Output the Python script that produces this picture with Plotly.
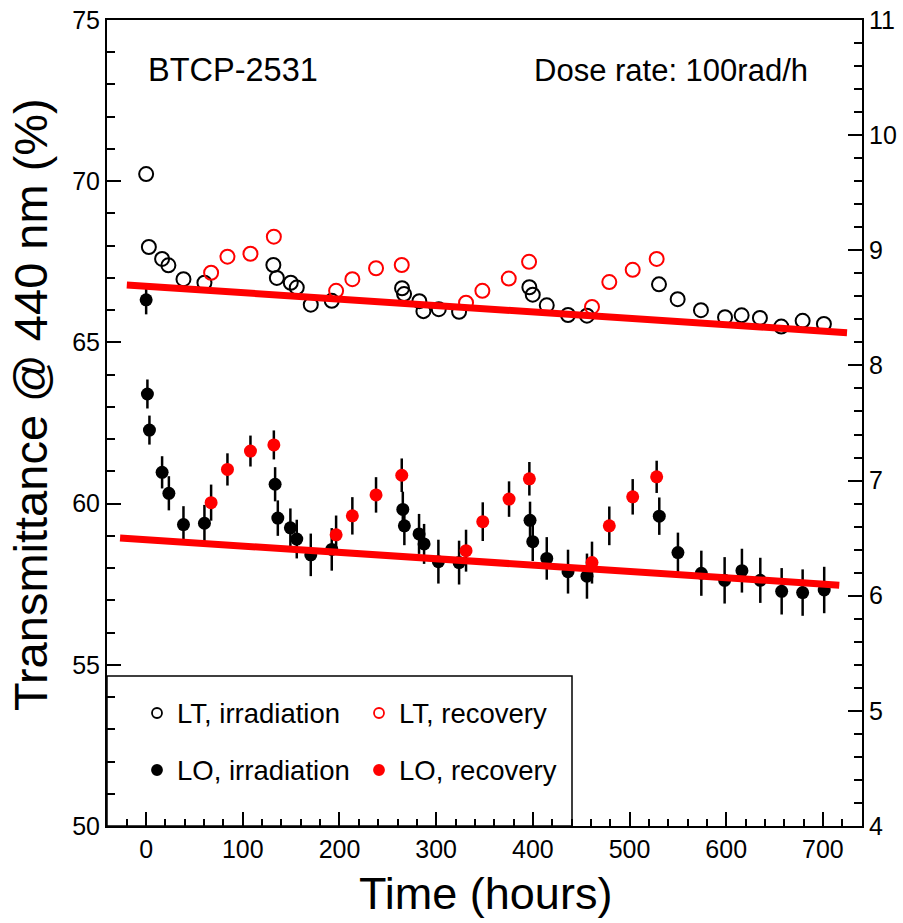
import plotly.graph_objects as go

# ---------------- data ----------------
lt_irr_t = [0, 2.8, 16.5, 23, 38.6, 60.3, 131.6, 135.2, 149.6, 155.8, 170.3, 192,
            264.7, 266.8, 282.6, 286.8, 302.7, 323.7, 396.4, 399.9, 414.4, 436.4, 456,
            530.5, 549.8, 573.9, 598.8, 616, 634.9, 657, 679.1, 701.1]
lt_irr_v = [70.22, 67.96, 67.59, 67.39, 66.96, 66.85, 67.40, 67.00, 66.85, 66.70, 66.17, 66.29,
            66.68, 66.50, 66.28, 65.97, 66.03, 65.95, 66.71, 66.48, 66.15, 65.85, 65.83,
            66.80, 66.34, 66.00, 65.78, 65.84, 65.76, 65.49, 65.67, 65.57]

lt_rec_t = [67.2, 84.1, 107.9, 132.1, 196.5, 213.3, 237.8, 264.4, 330.9, 347.8, 375.1, 396.1,
            461.2, 479.1, 503.3, 528.1]
lt_rec_v = [67.16, 67.66, 67.75, 68.28, 66.60, 66.96, 67.30, 67.40, 66.23, 66.60, 66.98, 67.50,
            66.10, 66.87, 67.25, 67.59]

lo_irr_t = [0, 1.3, 3.4, 16.5, 23.5, 38.6, 60.3, 133.4, 136.2, 149.2, 155.8, 170.3, 192,
            265.5, 267.1, 282.3, 287.5, 302.3, 323.7, 397.1, 399.9, 414.4, 436.4, 456,
            530.8, 550.1, 574.3, 598.4, 616.3, 635.3, 657.4, 679.1, 701.4]
lo_irr_v = [66.32, 63.40, 62.28, 60.97, 60.32, 59.35, 59.39, 60.60, 59.55, 59.25, 58.90, 58.41, 58.58,
            59.82, 59.31, 59.06, 58.75, 58.20, 58.17, 59.48, 58.82, 58.30, 57.89, 57.75,
            59.61, 58.48, 57.84, 57.62, 57.92, 57.62, 57.28, 57.24, 57.32]
lo_irr_e = [0.45, 0.45, 0.45, 0.50, 0.53, 0.57, 0.57, 0.53, 0.55, 0.60, 0.60, 0.66, 0.66,
            0.55, 0.60, 0.62, 0.62, 0.68, 0.68, 0.58, 0.60, 0.66, 0.68, 0.70,
            0.58, 0.62, 0.70, 0.72, 0.68, 0.70, 0.72, 0.72, 0.72]

lo_rec_t = [67.2, 84.1, 107.9, 132.1, 196.5, 213.3, 237.8, 264.4, 330.9, 348.2, 375.4, 396.4,
            461.2, 479.1, 503.3, 528.1]
lo_rec_v = [60.03, 61.06, 61.63, 61.82, 59.03, 59.62, 60.27, 60.88, 58.54, 59.44, 60.14, 60.77,
            58.17, 59.31, 60.21, 60.83]
lo_rec_e = [0.56, 0.50, 0.48, 0.45, 0.60, 0.58, 0.55, 0.52, 0.65, 0.60, 0.55, 0.52,
            0.65, 0.60, 0.55, 0.50]

fit_lt_t = [-20, 725]
fit_lt_v = [66.78, 65.30]
fit_lo_t = [-27, 717]
fit_lo_v = [58.93, 57.47]

x_range = [-40.5, 740.5]
y_range = [50, 75]
y2_range = [4, 11]

legend_labels = ["LT, irradiation", "LT, recovery", "LO, irradiation", "LO, recovery"]

FONT = "Liberation Sans, Arial, Helvetica, sans-serif"
RED = "#ff0000"

fig = go.Figure()

err_style = dict(type="data", thickness=2.5, width=0, color="black")

fig.add_trace(go.Scatter(x=lo_irr_t, y=lo_irr_v, mode="markers",
                         error_y=dict(array=lo_irr_e, **err_style),
                         marker=dict(symbol="circle", size=13, color="black"),
                         showlegend=False))
fig.add_trace(go.Scatter(x=lo_rec_t, y=lo_rec_v, mode="markers",
                         error_y=dict(array=lo_rec_e, **err_style),
                         marker=dict(symbol="circle", size=13, color=RED),
                         showlegend=False))
fig.add_trace(go.Scatter(x=lt_irr_t, y=lt_irr_v, mode="markers",
                         marker=dict(symbol="circle-open", size=14, color="black",
                                     line=dict(width=2, color="black")),
                         showlegend=False))
fig.add_trace(go.Scatter(x=lt_rec_t, y=lt_rec_v, mode="markers",
                         marker=dict(symbol="circle-open", size=14, color=RED,
                                     line=dict(width=2, color=RED)),
                         showlegend=False))
fig.add_trace(go.Scatter(x=fit_lt_t, y=fit_lt_v, mode="lines",
                         line=dict(color=RED, width=7), showlegend=False))
fig.add_trace(go.Scatter(x=fit_lo_t, y=fit_lo_v, mode="lines",
                         line=dict(color=RED, width=7), showlegend=False))
# dummy trace for right axis
fig.add_trace(go.Scatter(x=[None], y=[None], yaxis="y2", showlegend=False, hoverinfo="skip"))

# ---------------- manual legend ----------------
L, R, T, B = 107, 862, 20, 826
W, H = R - L, B - T

def px_x(px):
    return (px - L) / W

def px_y(py):
    return (B - py) / H

leg_sym_x = [px_x(157), px_x(379), px_x(157), px_x(379)]
leg_sym_y = [px_y(713), px_y(713), px_y(770), px_y(770)]
leg_txt_x = [px_x(175), px_x(397), px_x(175), px_x(397)]
leg_symbols = ["circle-open", "circle-open", "circle", "circle"]
leg_colors = ["black", RED, "black", RED]

fig.add_trace(go.Scatter(x=leg_sym_x, y=leg_sym_y, xaxis="x3", yaxis="y3", mode="markers",
                         marker=dict(symbol=leg_symbols, size=10, color=leg_colors,
                                     line=dict(width=1.8, color=leg_colors)),
                         showlegend=False, hoverinfo="skip"))

fig.add_shape(type="rect", xref="paper", yref="paper",
              x0=0, x1=px_x(572), y0=0, y1=px_y(676),
              line=dict(color="black", width=1.5), fillcolor="white", layer="below")

annotations = []
for lab, xx, yy in zip(legend_labels, leg_txt_x, leg_sym_y):
    annotations.append(dict(text=lab, x=xx, y=yy, xref="paper", yref="paper",
                            xanchor="left", yanchor="middle", showarrow=False,
                            font=dict(size=27.5, color="black", family=FONT)))

annotations += [
    dict(text="BTCP-2531", x=px_x(146), y=px_y(70), xref="paper", yref="paper",
         xanchor="left", yanchor="middle", showarrow=False,
         font=dict(size=32.5, color="black", family=FONT)),
    dict(text="Dose rate: 100rad/h", x=px_x(532), y=px_y(70), xref="paper", yref="paper",
         xanchor="left", yanchor="middle", showarrow=False,
         font=dict(size=31, color="black", family=FONT)),
    dict(text="Transmittance @ 440 nm (%)", x=px_x(30), y=px_y(405), xref="paper", yref="paper",
         xanchor="center", yanchor="middle", textangle=-90, showarrow=False,
         font=dict(size=47, color="black", family=FONT)),
    dict(text="Time (hours)", x=px_x(485), y=px_y(894), xref="paper", yref="paper",
         xanchor="center", yanchor="middle", showarrow=False,
         font=dict(size=45, color="black", family=FONT)),
]

tickfont = dict(size=25, color="black", family=FONT)

fig.update_layout(
    width=903, height=923,
    margin=dict(l=L, r=903 - R, t=T, b=923 - B, autoexpand=False),
    paper_bgcolor="white", plot_bgcolor="white",
    showlegend=False,
    annotations=annotations,
    xaxis=dict(range=x_range, showgrid=False, zeroline=False, automargin=False,
               showline=True, linecolor="black", linewidth=2, mirror=True,
               ticks="inside", ticklen=14, tickwidth=1.5, tickcolor="black",
               tick0=0, dtick=100, tickfont=tickfont,
               minor=dict(ticks="inside", dtick=20, ticklen=7, tickwidth=1.5, tickcolor="black")),
    yaxis=dict(range=y_range, showgrid=False, zeroline=False, automargin=False,
               showline=True, linecolor="black", linewidth=2,
               ticks="inside", ticklen=14, tickwidth=1.5, tickcolor="black",
               tick0=50, dtick=5, tickfont=tickfont,
               minor=dict(ticks="inside", dtick=1, ticklen=8, tickwidth=1.5, tickcolor="black")),
    yaxis2=dict(range=y2_range, overlaying="y", side="right", anchor="x", automargin=False,
                showgrid=False, zeroline=False,
                showline=True, linecolor="black", linewidth=2,
                ticks="inside", ticklen=14, tickwidth=1.5, tickcolor="black",
                tick0=4, dtick=1, tickfont=tickfont,
                minor=dict(ticks="inside", dtick=0.2, ticklen=8, tickwidth=1.5, tickcolor="black")),
    xaxis3=dict(range=[0, 1], overlaying="x", anchor="y3", visible=False, fixedrange=True),
    yaxis3=dict(range=[0, 1], overlaying="y", anchor="x3", visible=False, fixedrange=True),
)

fig.write_html("out.html", config={"displayModeBar": False},
               post_script="document.body.style.margin='0';document.body.style.padding='0';"
                           "document.body.style.overflow='hidden';")
